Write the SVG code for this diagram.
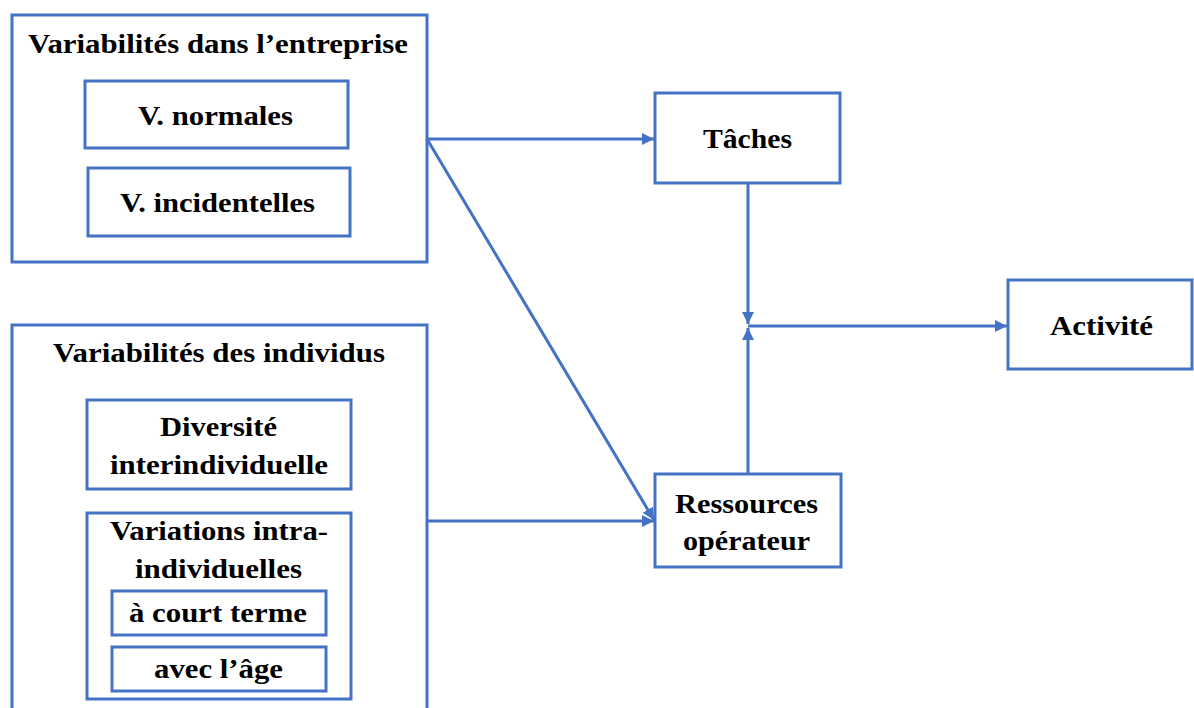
<svg xmlns="http://www.w3.org/2000/svg" width="1194" height="708" viewBox="0 0 1194 708">
<style>
.box{fill:#ffffff;stroke:#4472C4;stroke-width:3}
.t{font-family:"Liberation Serif","Times New Roman",serif;font-weight:bold;font-size:28px;fill:#000;text-anchor:middle}
.c{stroke:#4472C4;stroke-width:3;fill:none}
</style>
<defs>
<marker id="arr" markerUnits="userSpaceOnUse" markerWidth="14" markerHeight="12" refX="12" refY="6" orient="auto">
<path d="M0,0 L12,6 L0,12 Z" fill="#4472C4"/>
</marker>
</defs>
<rect width="1194" height="708" fill="#ffffff"/>
<g id="entreprise">
<rect class="box" x="12" y="15" width="415" height="247"/>
<text class="t" x="218" y="53" textLength="380" lengthAdjust="spacingAndGlyphs">Variabilités dans l’entreprise</text>
</g>
<g id="normales">
<rect class="box" x="85" y="81" width="263" height="67"/>
<text class="t" x="215.5" y="125" textLength="155" lengthAdjust="spacingAndGlyphs">V. normales</text>
</g>
<g id="incidentelles">
<rect class="box" x="88" y="168" width="262" height="68"/>
<text class="t" x="217.5" y="212" textLength="195" lengthAdjust="spacingAndGlyphs">V. incidentelles</text>
</g>
<g id="individus">
<rect class="box" x="12" y="325" width="415" height="395"/>
<text class="t" x="219" y="362" textLength="332" lengthAdjust="spacingAndGlyphs">Variabilités des individus</text>
</g>
<g id="diversite">
<rect class="box" x="87" y="400" width="264" height="89"/>
<text class="t" x="218.5" y="436" textLength="117" lengthAdjust="spacingAndGlyphs">Diversité</text>
<text class="t" x="219" y="474" textLength="218" lengthAdjust="spacingAndGlyphs">interindividuelle</text>
</g>
<g id="variations">
<rect class="box" x="87" y="513" width="264" height="186"/>
<text class="t" x="219" y="540" textLength="218" lengthAdjust="spacingAndGlyphs">Variations intra-</text>
<text class="t" x="218.5" y="578" textLength="167" lengthAdjust="spacingAndGlyphs">individuelles</text>
</g>
<g id="court-terme">
<rect class="box" x="112" y="591" width="214" height="44"/>
<text class="t" x="218" y="622" textLength="178" lengthAdjust="spacingAndGlyphs">à court terme</text>
</g>
<g id="age">
<rect class="box" x="112" y="647" width="214" height="44"/>
<text class="t" x="218.5" y="678" textLength="129" lengthAdjust="spacingAndGlyphs">avec l’âge</text>
</g>
<g id="taches">
<rect class="box" x="655" y="93" width="185" height="90"/>
<text class="t" x="747.5" y="148" textLength="89" lengthAdjust="spacingAndGlyphs">Tâches</text>
</g>
<g id="ressources">
<rect class="box" x="655" y="474" width="186" height="93"/>
<text class="t" x="746.5" y="513" textLength="143" lengthAdjust="spacingAndGlyphs">Ressources</text>
<text class="t" x="746.5" y="550" textLength="127" lengthAdjust="spacingAndGlyphs">opérateur</text>
</g>
<g id="activite">
<rect class="box" x="1008" y="280" width="184" height="89"/>
<text class="t" x="1101.5" y="335" textLength="103" lengthAdjust="spacingAndGlyphs">Activité</text>
</g>
<g id="connectors">
<path class="c" d="M427,139 H654" marker-end="url(#arr)"/>
<path class="c" d="M427,139 L654,520" marker-end="url(#arr)"/>
<path class="c" d="M427,521 H654" marker-end="url(#arr)"/>
<path class="c" d="M748,183 V324" marker-end="url(#arr)"/>
<path class="c" d="M748,474 V328" marker-end="url(#arr)"/>
<path class="c" d="M748,326 H1007" marker-end="url(#arr)"/>
</g>
</svg>
